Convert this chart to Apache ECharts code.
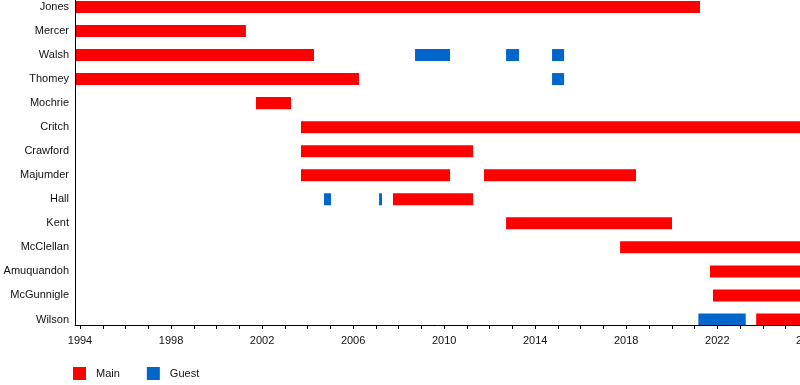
<!DOCTYPE html>
<html>
<head>
<meta charset="utf-8">
<script src="https://cdn.jsdelivr.net/npm/echarts@6/dist/echarts.min.js"></script>
<style>
html,body{margin:0;padding:0;background:#fff;}
#chart{width:800px;height:385px;}
</style>
</head>
<body>
<div id="chart"></div>
<script>
var names = ['Jones','Mercer','Walsh','Thomey','Mochrie','Critch','Crawford','Majumder','Hall','Kent','McClellan','Amuquandoh','McGunnigle','Wilson'];
var yearTicks = [1994,1995,1996,1997,1998,1999,2000,2001,2002,2003,2004,2005,2006,2007,2008,2009,2010,2011,2012,2013,2014,2015,2016,2017,2018,2019,2020,2021,2022,2023,2024,2025,2026];
var yearLabels = [1994,1998,2002,2006,2010,2014,2018,2022,2026];

var mainRows   = [0, 1, 2, 3, 4, 5, 6, 7, 7, 8, 9, 10, 11, 12, 13];
var mainStarts = [1993.78, 1993.78, 1993.78, 1993.78, 2001.73, 2003.71, 2003.71, 2003.71, 2011.75, 2007.75, 2012.72, 2017.73, 2021.68, 2021.81, 2023.71];
var mainEnds   = [2021.24, 2001.29, 2004.28, 2006.26, 2003.27, 2026.5, 2011.27, 2010.26, 2018.43, 2011.27, 2020.01, 2026.5, 2026.5, 2026.5, 2026.5];

var guestRows   = [2, 2, 2, 3, 8, 8, 13];
var guestStarts = [2008.72, 2012.72, 2014.74, 2014.74, 2004.72, 2007.14, 2021.17];
var guestEnds   = [2010.26, 2013.29, 2015.27, 2015.27, 2005.03, 2007.27, 2023.25];

function build(rows, starts, ends){
  return rows.map(function(r,i){ return [r, starts[i], ends[i]]; });
}
function renderBar(params, api){
  var s = api.coord([api.value(1), api.value(0)]);
  var e = api.coord([api.value(2), api.value(0)]);
  var h = api.size([0, 0.5])[1];
  return {
    type: 'rect',
    shape: {x: s[0], y: s[1] - h/2, width: e[0] - s[0], height: h},
    style: {fill: api.visual('color')}
  };
}
var FONT = 'Liberation Sans, Arial, sans-serif';
var chart = echarts.init(document.getElementById('chart'));
chart.setOption({
  animation: false,
  backgroundColor: '#fff',
  grid: {left: 75, right: -19.7, top: 0, bottom: 60, containLabel: false, outerBoundsMode: 'none'},
  legend: {
    left: 73, top: 367, padding: 0, itemWidth: 13, itemHeight: 13, itemGap: 27,
    icon: 'rect',
    textStyle: {fontFamily: FONT, fontSize: 11, color: '#111', padding: [0,0,0,5]},
    data: ['Main','Guest']
  },
  xAxis: {
    type: 'value', min: 1993.78, max: 2026.5, position: 'bottom',
    axisLine: {show: true, onZero: false, lineStyle: {color: '#000', width: 1}},
    axisTick: {show: true, length: 4, lineStyle: {color: '#000'}, customValues: yearTicks},
    axisLabel: {customValues: yearLabels, margin: 10, fontFamily: FONT, fontSize: 11, color: '#111', formatter: function(v){return String(v);}},
    splitLine: {show: false},
    z: 10
  },
  yAxis: {
    type: 'value', inverse: true, min: -0.29, max: 13.23, position: 'left',
    axisLine: {show: true, onZero: false, lineStyle: {color: '#000', width: 1}},
    axisTick: {show: false},
    axisLabel: {customValues: names.map(function(n,i){return i;}), margin: 6, padding: [2,0,0,0], fontFamily: FONT, fontSize: 11, color: '#111', formatter: function(v){return names[Math.round(v)];}},
    splitLine: {show: false},
    z: 10
  },
  series: [
    {name: 'Main', type: 'custom', itemStyle: {color: '#ff0000'}, renderItem: renderBar, encode: {x: [1,2], y: 0}, data: build(mainRows, mainStarts, mainEnds)},
    {name: 'Guest', type: 'custom', itemStyle: {color: '#0066cc'}, renderItem: renderBar, encode: {x: [1,2], y: 0}, data: build(guestRows, guestStarts, guestEnds)}
  ]
});
</script>
</body>
</html>
